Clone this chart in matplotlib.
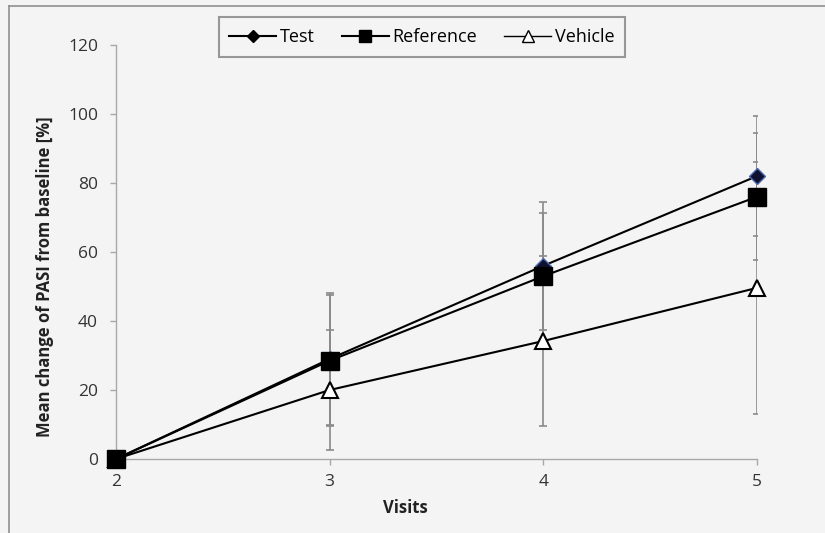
import matplotlib
matplotlib.use("Agg")
import matplotlib.pyplot as plt
from matplotlib.lines import Line2D

visits = [2, 3, 4, 5]
test = [0, 29, 56, 82]
test_err = [0, 19, 18.6, 17.3]
reference = [0, 28.5, 53, 76]
reference_err = [0, 19, 18.4, 18.4]
vehicle = [0, 20, 34.2, 49.6]
vehicle_err = [0, 17.5, 24.5, 36.6]
yticks = [0, 20, 40, 60, 80, 100, 120]

plt.rcParams['font.family'] = ['Open Sans', 'DejaVu Sans']
bg = '#f4f4f4'
fig = plt.figure(figsize=(8.25, 5.33), dpi=100, facecolor=bg)
ax = fig.add_axes([116/825, 1-459/533, (757-116)/825, (459-45)/533])
ax.set_facecolor(bg)

ecol = '#8a8a8a'
for vals, errs in [(vehicle, vehicle_err), (reference, reference_err), (test, test_err)]:
    ax.errorbar(visits, vals, yerr=errs, fmt='none', ecolor=ecol, elinewidth=1.2,
                capsize=3.2, capthick=1.2, zorder=2)

ax.plot(visits, vehicle, color='black', lw=1.5, marker='^', ms=12, mfc='white', mec='black', mew=1.5, zorder=3, clip_on=False)
ax.plot(visits, test, color='black', lw=1.5, marker='D', ms=8, mfc='#101030', mec='#4a6aaa', mew=1.0, zorder=4, clip_on=False)
ax.plot(visits, reference, color='black', lw=1.5, marker='s', ms=12.5, mfc='black', mec='black', zorder=5, clip_on=False)

ax.set_xlim(2, 5)
ax.set_ylim(0, 120)
ax.set_xticks(visits)
ax.set_yticks(yticks)
for s in ['top', 'right']:
    ax.spines[s].set_visible(False)
for s in ['left', 'bottom']:
    ax.spines[s].set_color('#a8a8a8')
    ax.spines[s].set_linewidth(1.0)
ax.tick_params(axis='both', colors='#a8a8a8', labelcolor='#333333', labelsize=12.5, length=4, width=1.0, direction='out')
ax.tick_params(axis='x', pad=7)
ax.tick_params(axis='y', pad=9)
ax.set_xlabel('Visits', fontsize=12, fontweight='bold', color='#222222')
ax.set_ylabel('Mean change of PASI from baseline [%]', fontsize=12, fontweight='bold', color='#222222')
ax.xaxis.set_label_coords(0.452, -0.096)
ax.yaxis.set_label_coords(-0.096, 0.44)

handles = [
    Line2D([], [], color='black', lw=1.5, marker='D', ms=6, mfc='black', mec='black'),
    Line2D([], [], color='black', lw=1.5, marker='s', ms=9, mfc='black', mec='black'),
    Line2D([], [], color='black', lw=1.0, marker='^', ms=8, mfc='white', mec='black', mew=1.0),
]
leg = fig.legend(handles, ['Test', 'Reference', 'Vehicle'], loc='center', bbox_to_anchor=(422/825, 1-37/533),
                 ncol=3, fontsize=13, frameon=True, fancybox=False, edgecolor='#808080',
                 handlelength=2.6, handletextpad=0.2, columnspacing=1.5, borderpad=0.6,
                 borderaxespad=0)
leg.get_frame().set_linewidth(1.5)
leg.get_frame().set_facecolor(bg)

fig.add_artist(Line2D([9/825, 9/825], [0, 1-6/533], color='#909090', lw=1.2, transform=fig.transFigure))
fig.add_artist(Line2D([9/825, 1], [1-6/533, 1-6/533], color='#909090', lw=1.2, transform=fig.transFigure))

fig.savefig('out.png', dpi=100, facecolor=bg)
